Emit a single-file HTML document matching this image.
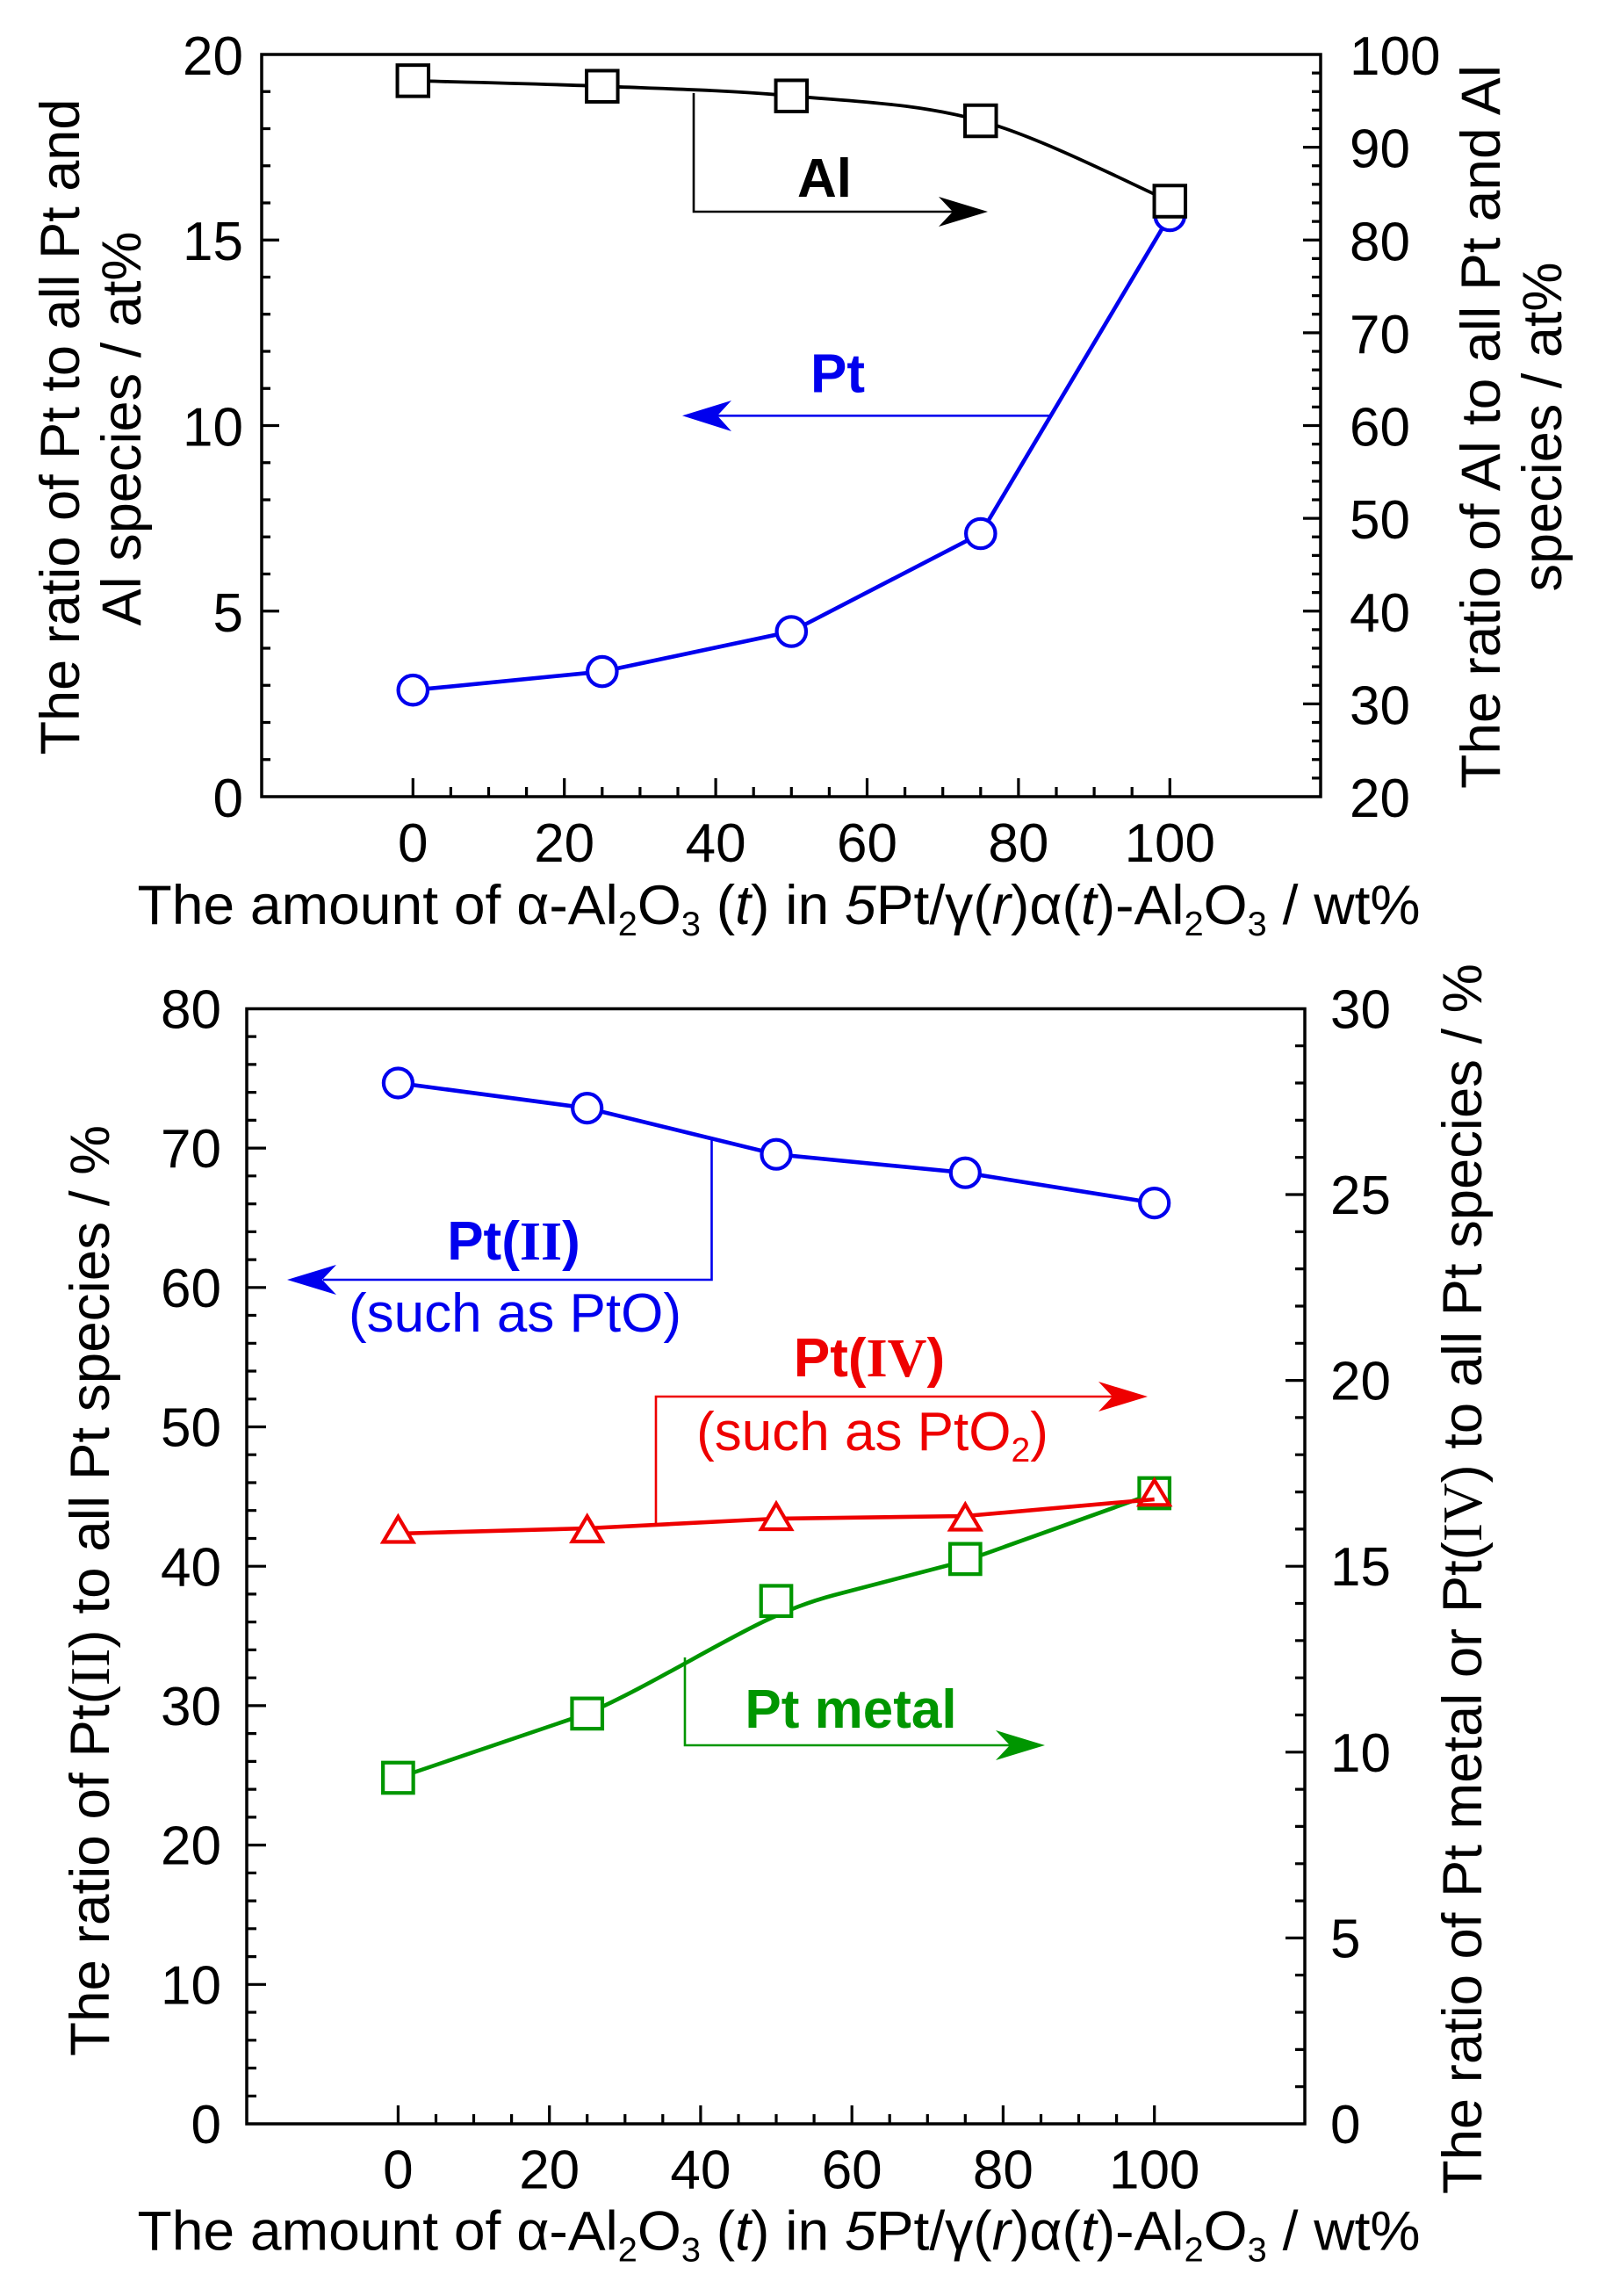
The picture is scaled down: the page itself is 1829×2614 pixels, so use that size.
<!DOCTYPE html>
<html>
<head>
<meta charset="utf-8">
<style>
html,body{margin:0;padding:0;background:#fff;}
svg{display:block;}
text{font-family:"Liberation Sans",Arial,sans-serif;fill:#000;}
.t{font-size:62px;}
.ti{font-size:63px;}
.s{font-family:"Liberation Serif","Times New Roman",serif;}
</style>
</head>
<body>
<svg width="1829" height="2614" viewBox="0 0 1829 2614" xmlns="http://www.w3.org/2000/svg">
<rect x="0" y="0" width="1829" height="2614" fill="#fff"/>

<!-- ================= TOP PLOT ================= -->
<rect x="298" y="62" width="1206" height="845" fill="none" stroke="#000" stroke-width="3.5"/>
<path fill="none" stroke="#000" stroke-width="3.2" d="M298 864.75h10 M298 822.5h10 M298 780.25h10 M298 738h10 M298 695.75h20 M298 653.5h10 M298 611.25h10 M298 569h10 M298 526.75h10 M298 484.5h20 M298 442.25h10 M298 400h10 M298 357.75h10 M298 315.5h10 M298 273.25h20 M298 231h10 M298 188.75h10 M298 146.5h10 M298 104.25h10"/>
<path fill="none" stroke="#000" stroke-width="3.2" d="M1504 885.9h-10 M1504 864.75h-10 M1504 843.6h-10 M1504 822.5h-10 M1504 801.4h-20 M1504 780.25h-10 M1504 759.1h-10 M1504 738h-10 M1504 716.9h-10 M1504 695.75h-20 M1504 674.6h-10 M1504 653.5h-10 M1504 632.4h-10 M1504 611.25h-10 M1504 590.1h-20 M1504 569h-10 M1504 547.9h-10 M1504 526.75h-10 M1504 505.6h-10 M1504 484.5h-20 M1504 463.4h-10 M1504 442.25h-10 M1504 421.1h-10 M1504 400h-10 M1504 378.9h-20 M1504 357.75h-10 M1504 336.6h-10 M1504 315.5h-10 M1504 294.4h-10 M1504 273.25h-20 M1504 252.1h-10 M1504 231h-10 M1504 209.9h-10 M1504 188.75h-10 M1504 167.6h-20 M1504 146.5h-10 M1504 125.4h-10 M1504 104.25h-10 M1504 83.1h-10"/>
<path fill="none" stroke="#000" stroke-width="3.2" d="M470.3 907v-21 M513.4 907v-11 M556.5 907v-11 M599.6 907v-11 M642.7 907v-21 M685.8 907v-11 M728.9 907v-11 M772 907v-11 M815.1 907v-21 M858.2 907v-11 M901.3 907v-11 M944.4 907v-11 M987.5 907v-21 M1030.6 907v-11 M1073.7 907v-11 M1116.8 907v-11 M1159.9 907v-21 M1203 907v-11 M1246.1 907v-11 M1289.2 907v-11 M1332.3 907v-21"/>

<!-- top tick labels -->
<text class="t" x="277" y="85" text-anchor="end">20</text>
<text class="t" x="277" y="296" text-anchor="end">15</text>
<text class="t" x="277" y="507.5" text-anchor="end">10</text>
<text class="t" x="277" y="719" text-anchor="end">5</text>
<text class="t" x="277" y="930" text-anchor="end">0</text>

<text class="t" x="1537" y="85">100</text>
<text class="t" x="1537" y="190.6">90</text>
<text class="t" x="1537" y="296.3">80</text>
<text class="t" x="1537" y="401.9">70</text>
<text class="t" x="1537" y="507.5">60</text>
<text class="t" x="1537" y="613.1">50</text>
<text class="t" x="1537" y="718.8">40</text>
<text class="t" x="1537" y="824.4">30</text>
<text class="t" x="1537" y="930">20</text>

<text class="t" x="470.3" y="981" text-anchor="middle">0</text>
<text class="t" x="642.7" y="981" text-anchor="middle">20</text>
<text class="t" x="815.1" y="981" text-anchor="middle">40</text>
<text class="t" x="987.5" y="981" text-anchor="middle">60</text>
<text class="t" x="1159.9" y="981" text-anchor="middle">80</text>
<text class="t" x="1332.3" y="981" text-anchor="middle">100</text>

<!-- top axis titles -->
<text class="ti" transform="translate(90,486) rotate(-90)" text-anchor="middle" textLength="747" lengthAdjust="spacingAndGlyphs">The ratio of Pt to all Pt and</text>
<text class="ti" transform="translate(160,488) rotate(-90)" text-anchor="middle" textLength="449" lengthAdjust="spacingAndGlyphs">Al species / at%</text>
<text class="ti" transform="translate(1708,486) rotate(-90)" text-anchor="middle" textLength="824" lengthAdjust="spacingAndGlyphs">The ratio of Al to all Pt and Al</text>
<text class="ti" transform="translate(1778,486) rotate(-90)" text-anchor="middle" textLength="375" lengthAdjust="spacingAndGlyphs">species / at%</text>
<text class="ti" x="887" y="1052" text-anchor="middle" textLength="1461" lengthAdjust="spacingAndGlyphs">The amount of α-Al<tspan dy="13" font-size="39">2</tspan><tspan dy="-13">O</tspan><tspan dy="13" font-size="39">3</tspan><tspan dy="-13"> (</tspan><tspan font-style="italic">t</tspan>) in <tspan font-style="italic">5</tspan>Pt/γ(<tspan font-style="italic">r</tspan>)α(<tspan font-style="italic">t</tspan>)-Al<tspan dy="13" font-size="39">2</tspan><tspan dy="-13">O</tspan><tspan dy="13" font-size="39">3</tspan><tspan dy="-13"> / wt%</tspan></text>

<!-- top annotations -->
<path d="M790 106 V241 H1086" fill="none" stroke="#000" stroke-width="2.6"/>
<polygon points="1125,241 1069,224 1085,241 1069,258" fill="#000"/>
<text x="939" y="224" text-anchor="middle" font-size="62" font-weight="bold">Al</text>
<path d="M1197 473.3 H816" fill="none" stroke="#0000ee" stroke-width="2.6"/>
<polygon points="777,473.3 833,456 817,473.3 833,491" fill="#0000ee"/>
<text x="954" y="446.7" text-anchor="middle" font-size="62" font-weight="bold" style="fill:#0000ee">Pt</text>

<!-- top data: Pt (blue) -->
<polyline points="470.3,785.7 685.8,764.6 901.3,719 1116.8,607.5 1332.3,245.5" fill="none" stroke="#0000ee" stroke-width="4.6"/>
<g fill="#fff" stroke="#0000ee" stroke-width="4.2">
<circle cx="470.3" cy="785.7" r="16.7"/>
<circle cx="685.8" cy="764.6" r="16.7"/>
<circle cx="901.3" cy="719" r="16.7"/>
<circle cx="1116.8" cy="607.5" r="16.7"/>
<circle cx="1332.3" cy="245.5" r="16.7"/>
</g>
<!-- top data: Al (black) -->
<path d="M470.3 91.9 C506.2 92.95 613.97 95.32 685.8 98.2 C757.63 101.08 829.47 102.65 901.3 109.2 C973.13 115.75 1044.97 117.53 1116.8 137.5 C1188.63 157.47 1296.38 213.75 1332.3 229" fill="none" stroke="#000" stroke-width="3.8"/>
<g fill="#fff" stroke="#000" stroke-width="4">
<rect x="452.55" y="74.15" width="35.5" height="35.5"/>
<rect x="668.05" y="80.45" width="35.5" height="35.5"/>
<rect x="883.55" y="91.45" width="35.5" height="35.5"/>
<rect x="1099.05" y="119.75" width="35.5" height="35.5"/>
<rect x="1314.55" y="211.25" width="35.5" height="35.5"/>
</g>

<!-- ================= BOTTOM PLOT ================= -->
<rect x="281" y="1148.5" width="1205" height="1269.5" fill="none" stroke="#000" stroke-width="3.5"/>
<path fill="none" stroke="#000" stroke-width="3.2" d="M281 2386.3h11 M281 2354.5h11 M281 2322.8h11 M281 2291h11 M281 2259.3h22 M281 2227.6h11 M281 2195.8h11 M281 2164.1h11 M281 2132.3h11 M281 2100.6h22 M281 2068.9h11 M281 2037.1h11 M281 2005.4h11 M281 1973.6h11 M281 1941.9h22 M281 1910.2h11 M281 1878.4h11 M281 1846.7h11 M281 1814.9h11 M281 1783.2h22 M281 1751.5h11 M281 1719.7h11 M281 1688h11 M281 1656.2h11 M281 1624.5h22 M281 1592.8h11 M281 1561h11 M281 1529.3h11 M281 1497.5h11 M281 1465.8h22 M281 1434.1h11 M281 1402.3h11 M281 1370.6h11 M281 1338.8h11 M281 1307.1h22 M281 1275.4h11 M281 1243.6h11 M281 1211.9h11 M281 1180.1h11"/>
<path fill="none" stroke="#000" stroke-width="3.2" d="M1486 2375.7h-11 M1486 2333.4h-11 M1486 2291h-11 M1486 2248.7h-11 M1486 2206.4h-22 M1486 2164.1h-11 M1486 2121.8h-11 M1486 2079.4h-11 M1486 2037.1h-11 M1486 1994.8h-22 M1486 1952.5h-11 M1486 1910.2h-11 M1486 1867.8h-11 M1486 1825.5h-11 M1486 1783.2h-22 M1486 1740.9h-11 M1486 1698.6h-11 M1486 1656.2h-11 M1486 1613.9h-11 M1486 1571.6h-22 M1486 1529.3h-11 M1486 1487h-11 M1486 1444.6h-11 M1486 1402.3h-11 M1486 1360h-22 M1486 1317.7h-11 M1486 1275.4h-11 M1486 1233h-11 M1486 1190.7h-11"/>
<path fill="none" stroke="#000" stroke-width="3.2" d="M453.4 2418v-21 M496.5 2418v-11 M539.5 2418v-11 M582.6 2418v-11 M625.7 2418v-21 M668.7 2418v-11 M711.8 2418v-11 M754.8 2418v-11 M797.9 2418v-21 M841 2418v-11 M884 2418v-11 M927.1 2418v-11 M970.2 2418v-21 M1013.2 2418v-11 M1056.3 2418v-11 M1099.3 2418v-11 M1142.4 2418v-21 M1185.5 2418v-11 M1228.5 2418v-11 M1271.6 2418v-11 M1314.7 2418v-21"/>

<!-- bottom tick labels -->
<text class="t" x="252" y="1170.5" text-anchor="end">80</text>
<text class="t" x="252" y="1329.2" text-anchor="end">70</text>
<text class="t" x="252" y="1487.9" text-anchor="end">60</text>
<text class="t" x="252" y="1646.6" text-anchor="end">50</text>
<text class="t" x="252" y="1805.3" text-anchor="end">40</text>
<text class="t" x="252" y="1964" text-anchor="end">30</text>
<text class="t" x="252" y="2122.7" text-anchor="end">20</text>
<text class="t" x="252" y="2281.4" text-anchor="end">10</text>
<text class="t" x="252" y="2440" text-anchor="end">0</text>

<text class="t" x="1515" y="1170.5">30</text>
<text class="t" x="1515" y="1382">25</text>
<text class="t" x="1515" y="1593.6">20</text>
<text class="t" x="1515" y="1805.2">15</text>
<text class="t" x="1515" y="2016.8">10</text>
<text class="t" x="1515" y="2228.4">5</text>
<text class="t" x="1515" y="2440">0</text>

<text class="t" x="453.4" y="2491.7" text-anchor="middle">0</text>
<text class="t" x="625.7" y="2491.7" text-anchor="middle">20</text>
<text class="t" x="797.9" y="2491.7" text-anchor="middle">40</text>
<text class="t" x="970.2" y="2491.7" text-anchor="middle">60</text>
<text class="t" x="1142.4" y="2491.7" text-anchor="middle">80</text>
<text class="t" x="1314.7" y="2491.7" text-anchor="middle">100</text>

<!-- bottom axis titles -->
<text class="ti" transform="translate(124,1811) rotate(-90)" text-anchor="middle" textLength="1060" lengthAdjust="spacingAndGlyphs">The ratio of Pt(<tspan class="s">II</tspan>) to all Pt species / %</text>
<text class="ti" transform="translate(1687,1797.5) rotate(-90)" text-anchor="middle" textLength="1401" lengthAdjust="spacingAndGlyphs">The ratio of Pt metal or Pt(<tspan class="s">IV</tspan>) to all Pt species / %</text>
<text class="ti" x="887" y="2561.7" text-anchor="middle" textLength="1461" lengthAdjust="spacingAndGlyphs">The amount of α-Al<tspan dy="13" font-size="39">2</tspan><tspan dy="-13">O</tspan><tspan dy="13" font-size="39">3</tspan><tspan dy="-13"> (</tspan><tspan font-style="italic">t</tspan>) in <tspan font-style="italic">5</tspan>Pt/γ(<tspan font-style="italic">r</tspan>)α(<tspan font-style="italic">t</tspan>)-Al<tspan dy="13" font-size="39">2</tspan><tspan dy="-13">O</tspan><tspan dy="13" font-size="39">3</tspan><tspan dy="-13"> / wt%</tspan></text>

<!-- bottom annotations -->
<path d="M810.5 1297 V1457 H368" fill="none" stroke="#0000ee" stroke-width="2.6"/>
<polygon points="327,1457 383,1440 367,1457 383,1474" fill="#0000ee"/>
<text x="585" y="1434" text-anchor="middle" font-size="62" font-weight="bold" style="fill:#0000ee">Pt(<tspan class="s" style="fill:#0000ee">II</tspan>)</text>
<text x="586.5" y="1516" text-anchor="middle" font-size="62" style="fill:#0000ee">(such as PtO)</text>

<path d="M747 1734 V1590 H1268" fill="none" stroke="#ee0000" stroke-width="2.6"/>
<polygon points="1307,1590 1251,1573 1267,1590 1251,1607" fill="#ee0000"/>
<text x="990" y="1567" text-anchor="middle" font-size="62" font-weight="bold" style="fill:#ee0000">Pt(<tspan class="s" style="fill:#ee0000">IV</tspan>)</text>
<text x="993.5" y="1651" text-anchor="middle" font-size="62" style="fill:#ee0000">(such as PtO<tspan dy="13" font-size="39" style="fill:#ee0000">2</tspan><tspan dy="-13" style="fill:#ee0000">)</tspan></text>

<path d="M780 1887 V1987 H1151" fill="none" stroke="#009600" stroke-width="2.6"/>
<polygon points="1190,1987 1134,1970 1150,1987 1134,2004" fill="#009600"/>
<text x="969" y="1967" text-anchor="middle" font-size="62" font-weight="bold" style="fill:#009600">Pt metal</text>

<!-- bottom data: Pt(II) blue -->
<polyline points="453.4,1233 668.7,1261.6 884,1314.2 1099.3,1335.2 1314.7,1369.6" fill="none" stroke="#0000ee" stroke-width="4.6"/>
<g fill="#fff" stroke="#0000ee" stroke-width="4.2">
<circle cx="453.4" cy="1233" r="16.5"/>
<circle cx="668.7" cy="1261.6" r="16.5"/>
<circle cx="884" cy="1314.2" r="16.5"/>
<circle cx="1099.3" cy="1335.2" r="16.5"/>
<circle cx="1314.7" cy="1369.6" r="16.5"/>
</g>

<!-- green Pt metal -->
<path d="M453.4 2024 L668.7 1950.9 C735 1922 815 1872 872 1845 C898 1833 920 1824 950 1816 L1099.3 1777 L1314.7 1700" fill="none" stroke="#009600" stroke-width="4.6" stroke-linejoin="round"/>
<g fill="#fff" stroke="#009600" stroke-width="4.2">
<rect x="436.15" y="2006.75" width="34.5" height="34.5"/>
<rect x="651.45" y="1933.65" width="34.5" height="34.5"/>
<rect x="866.75" y="1805.45" width="34.5" height="34.5"/>
<rect x="1082.05" y="1757.65" width="34.5" height="34.5"/>
<rect x="1297.45" y="1682.75" width="34.5" height="34.5"/>
</g>

<!-- red Pt(IV) -->
<polyline points="453.4,1746 668.7,1740 884,1729 1099.3,1726 1314.7,1707" fill="none" stroke="#ee0000" stroke-width="4.6"/>
<g fill="#fff" stroke="#ee0000" stroke-width="4.2" stroke-linejoin="miter">
<path d="M453.4 1726.8 L470.4 1755.5 L436.4 1755.5 Z"/>
<path d="M668.7 1726.2 L685.7 1755 L651.7 1755 Z"/>
<path d="M884 1711.8 L901 1741 L867 1741 Z"/>
<path d="M1099.3 1712.8 L1116.3 1741.5 L1082.3 1741.5 Z"/>
<path d="M1314.7 1685.2 L1331.7 1713.3 L1297.7 1713.3 Z" fill="none"/>
</g>
</svg>
</body>
</html>
